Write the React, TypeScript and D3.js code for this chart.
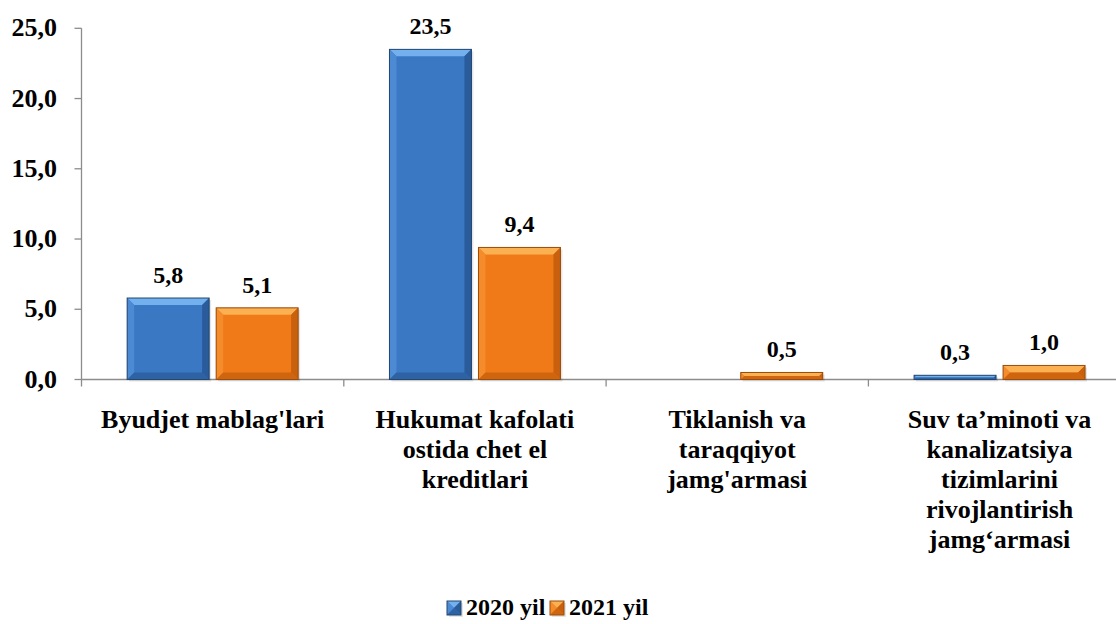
import React from "react";
import * as d3 from "d3";

// toifalar (qatorlarga bo'lingan)
const categories = [
  ["Byudjet mablag'lari"],
  ["Hukumat kafolati", "ostida chet el", "kreditlari"],
  ["Tiklanish va", "taraqqiyot", "jamg'armasi"],
  ["Suv ta’minoti va", "kanalizatsiya", "tizimlarini", "rivojlantirish", "jamg‘armasi"],
];
const seriesNames = ["2020 yil", "2021 yil"];
const values2020 = [5.8, 23.5, null, 0.3];
const values2021 = [5.1, 9.4, 0.5, 1.0];
const yTicks = [0, 5, 10, 15, 20, 25];

const W = 1116;
const H = 624;
const FONT = "Liberation Serif";

const palette = [
  { face: "#3b78c4", light: "#72b0ee", side: "#4d8ad4", dark: "#2a5c9c", stroke: "#24466f" },
  { face: "#f07a18", light: "#fbb152", side: "#f48c2c", dark: "#c8600e", stroke: "#9a4c0c" },
];

const fmt = (v: number) => v.toFixed(1).replace(".", ",");

function BevelBar({ x, y, w, h, c }: { x: number; y: number; w: number; h: number; c: any }) {
  const b = Math.min(7, h / 2, w / 2);
  return (
    <g>
      <rect x={x + 2} y={y + 2} width={w} height={h} fill="#000" opacity={0.1} />
      <rect x={x} y={y} width={w} height={h} fill={c.face} />
      {/* qirralar */}
      <polygon points={`${x},${y} ${x + w},${y} ${x + w - b},${y + b} ${x + b},${y + b}`} fill={c.light} />
      <polygon points={`${x},${y} ${x + b},${y + b} ${x + b},${y + h - b} ${x},${y + h}`} fill={c.side} />
      <polygon points={`${x + w},${y} ${x + w},${y + h} ${x + w - b},${y + h - b} ${x + w - b},${y + b}`} fill={c.dark} />
      <polygon points={`${x},${y + h} ${x + b},${y + h - b} ${x + w - b},${y + h - b} ${x + w},${y + h}`} fill={c.dark} opacity={0.8} />
      <rect x={x} y={y} width={w} height={h} fill="none" stroke={c.stroke} strokeWidth={1} />
    </g>
  );
}

export default function App() {
  const left = 81.5;
  const bottom = 379.5;
  const top = 28.3;

  const x = d3
    .scaleBand<number>()
    .domain(d3.range(categories.length))
    .range([left, left + 4 * 262.3])
    .paddingInner(0)
    .paddingOuter(0);

  const xs = d3
    .scaleBand<number>()
    .domain([0, 1])
    .range([0, x.bandwidth()])
    .paddingInner(0.079)
    .paddingOuter(0.513);

  const y = d3.scaleLinear().domain([0, 25]).range([bottom, top]);

  const series = [values2020, values2021];

  return (
    <svg width={W} height={H} style={{ position: "absolute", left: 0, top: 0, background: "#fff" }}>
      <rect width={W} height={H} fill="#fff" />
      {/* y o'qi */}
      <line x1={left} x2={left} y1={top} y2={bottom} stroke="#8c8c8c" strokeWidth={1.3} />
      {yTicks.map((t) => (
        <g key={t}>
          <line x1={left - 7} x2={left} y1={y(t)} y2={y(t)} stroke="#8c8c8c" strokeWidth={1.3} />
          <text x={57} y={y(t) + 8} textAnchor="end" fontSize={26} fontFamily={FONT} fontWeight="bold" fill="#000">
            {fmt(t)}
          </text>
        </g>
      ))}

      {/* x o'qi */}
      <line x1={left} x2={W} y1={bottom} y2={bottom} stroke="#8c8c8c" strokeWidth={1.3} />
      {d3.range(categories.length + 1).map((i) => {
        const px = left + i * x.step();
        return px < W ? <line key={i} x1={px} x2={px} y1={bottom} y2={bottom + 7} stroke="#8c8c8c" strokeWidth={1.3} /> : null;
      })}

      {/* ustunlar */}
      {series.map((vals, si) =>
        vals.map((v, ci) => {
          if (v == null) return null;
          const bx = (x(ci) as number) + (xs(si) as number);
          const by = y(v);
          return (
            <g key={`${si}-${ci}`}>
              <BevelBar x={bx} y={by} w={xs.bandwidth()} h={bottom - by} c={palette[si]} />
              <text x={bx + xs.bandwidth() / 2} y={by - 15} textAnchor="middle" fontSize={24} fontFamily={FONT} fontWeight="bold" fill="#000">
                {fmt(v)}
              </text>
            </g>
          );
        })
      )}

      {/* toifa yozuvlari */}
      {categories.map((lines, ci) => (
        <text key={ci} x={(x(ci) as number) + x.bandwidth() / 2} y={428} textAnchor="middle" fontSize={26} fontFamily={FONT} fontWeight="bold" fill="#000">
          {lines.map((l, li) => (
            <tspan key={li} x={(x(ci) as number) + x.bandwidth() / 2} dy={li === 0 ? 0 : 30}>
              {l}
            </tspan>
          ))}
        </text>
      ))}

      {/* legenda */}
      {seriesNames.map((name, si) => {
        const lx = 447 + si * 103;
        return (
          <g key={name}>
            <BevelBar x={lx} y={601} w={14} h={14} c={palette[si]} />
            <text x={lx + 19} y={615} fontSize={24} fontFamily={FONT} fontWeight="bold" fill="#000">
              {name}
            </text>
          </g>
        );
      })}
    </svg>
  );
}
